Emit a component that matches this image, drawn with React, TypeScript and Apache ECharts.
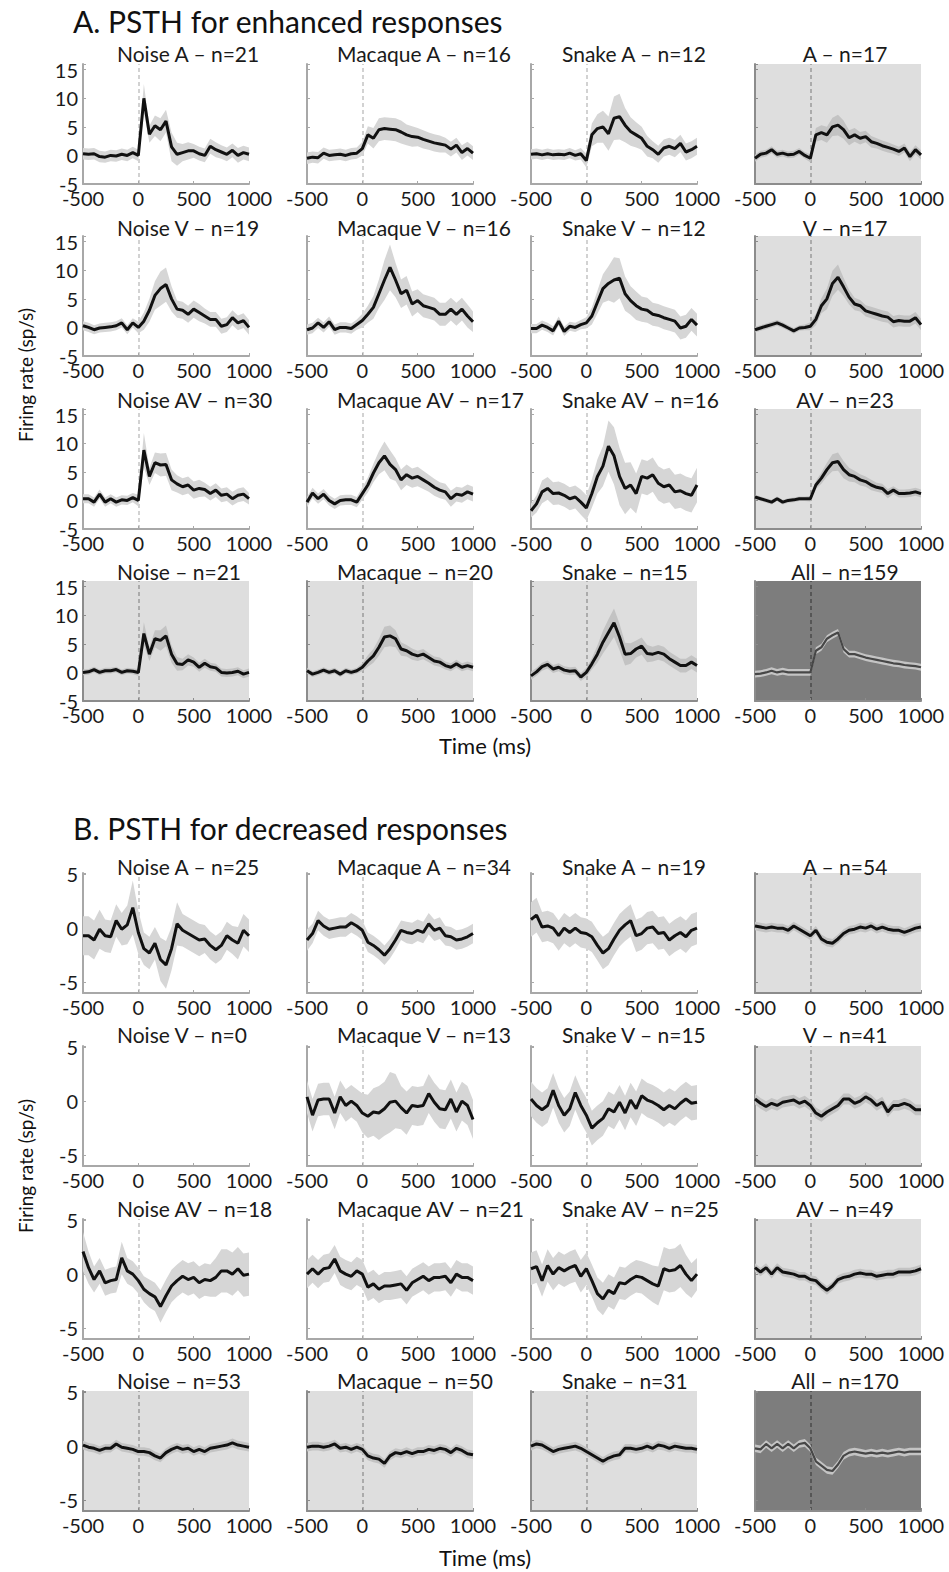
import React, { useEffect, useRef } from 'react';
import * as echarts from 'echarts';

// time bins (ms)
const times = ['-500','-450','-400','-350','-300','-250','-200','-150','-100','-50','0','50','100','150','200','250','300','350','400','450','500','550','600','650','700','750','800','850','900','950','1000'];
const xTickLabels = ['-500', '0', '500', '1000'];
const yTicksA = [-5, 0, 5, 10, 15];
const yTicksB = [-5, 0, 5];

// ---------- A. enhanced responses: means ----------
const aNoiseA = [0.3,0.2,0.3,-0.2,-0.3,0,-0.1,0.2,0,0.5,0, 10,3.7,5.2,4.5,6.0,1.5,0.2,0.5,0.8,0.8,0.3,0,1.6,1.0,0.6,0.2,0.9,0,0.5,0.2];
const aMacaqueA = [-0.5,-0.3,-0.4,0.4,0,0.1,0.2,0,0.3,0.4,1.2, 3.6,3,4.5,4.7,4.6,4.5,4.1,3.6,3.3,3.2,2.8,2.5,2.2,2,1.8,1.1,1.8,0.5,1.2,0.4];
const aSnakeA = [0.2,0.3,0.1,0.3,0.1,0.2,0.1,0.4,0,0.3,-0.9, 3.6,4.7,5,3.8,6.5,6.8,5.3,4.2,3.6,3,1.6,1,0.2,1.3,1.6,1.2,2.1,0.6,1,1.6];
const aA = [-0.5,0.2,0.4,1,0.2,0.4,0.1,0.2,0.7,0,-0.5, 3.6,4,3.6,5,5.3,4.5,3.1,3.6,3,3.3,2.4,2.1,1.7,1.4,1.1,0.7,1.3,-0.2,1,0.1];
const aNoiseV = [0.3,0,-0.4,-0.1,0,0.1,0.3,0.8,-0.4,0.8,0, 1.1,3,5.6,6.8,7.5,5,3.2,3,2.3,3.2,2.6,2,1.4,1.4,0.2,0.5,1.7,0.8,1.2,0];
const aMacaqueV = [-0.4,-0.1,0.8,0,1,-0.4,0,0,-0.2,0.5,1.2, 2.3,3.5,5.9,8.3,10.5,8.3,5.9,6.5,4.1,4.7,3.8,3.5,3.2,2.3,2.3,3.2,2.3,3.2,2,1];
const aSnakeV = [-0.2,-0.2,0.4,0,-0.6,1.1,-0.7,0.2,0,0.5,0.8, 2,4.4,6.8,7.7,8.3,8.6,5.9,4.7,3.8,3.2,3,2.3,2.1,1.7,1.4,1.1,-0.1,0.2,1.4,0.4];
const aV = [-0.4,-0.1,0.2,0.5,0.8,0.4,-0.1,-0.6,-0.1,0,0.2, 1.4,3.8,5,7.7,8.8,7.1,5.3,4.1,3.8,2.9,2.6,2.3,2,1.8,1,1.2,1.1,1.1,1.7,0.5];
const aNoiseAV = [0.3,0.3,-0.3,1.1,-0.3,0.3,-0.3,0.1,0,0.5,0, 8.8,4.2,6.6,6.2,6.3,3.6,2.9,2.4,2.7,1.8,2.1,1.9,1.2,1.8,0.9,1.1,0.3,0.9,1.1,0.3];
const aMacaqueAV = [-0.3,1.3,0.3,1.1,0,-0.6,0,0.1,0.1,-0.3,1.2, 2.7,4.8,6.6,7.8,6.3,5.4,3.6,4.5,3.9,4.2,3.6,3,2.3,1.8,1.5,0.3,1.1,0.9,1.5,1.1];
const aSnakeAV = [-1.8,-0.6,1.5,2.1,1.2,1.3,0.9,0.3,0.6,-0.3,-1.3, 1.2,4.2,6,9.5,7.8,4.2,2.1,2.7,1.2,4.2,3.9,4.5,3,2.4,2.7,1.5,1.7,1.2,0.9,2.7];
const aAV = [0.6,0.3,0,-0.3,0.3,-0.3,0,0.1,0.3,0.3,0.3, 2.7,3.9,5.4,6.6,6.8,5.4,4.5,4.2,3.6,3.3,2.7,2.3,2.1,1.2,1.8,1.2,1.2,1.3,1.5,1.2];
const aNoise = [0,0.1,0.5,0,0.3,0.3,0.5,0,0.3,0.2,0, 6.8,3.2,5.9,5.6,6.4,3.2,1.5,1.4,2.2,1.8,0.9,1.6,1,0.8,0,-0.1,0,0.2,-0.3,0];
const aMacaque = [0.3,-0.3,0,0.4,0,0.3,-0.3,0.3,0,0.3,0.9, 2,2.9,4.4,6.2,6.4,5.9,4.1,3.8,3.2,2.9,3.2,2.6,2,1.8,1.2,0.9,1.5,0.9,1.2,0.9];
const aSnake = [-0.6,0.1,1,1.4,0.6,0.9,0.4,0.2,0.3,-0.8,0, 1.5,3.2,5.3,7,8.7,6.2,3.2,3.3,4.1,4.6,3.3,3.2,3.5,3.2,2.4,1.8,1.2,1.2,1.8,1.2];
const aAll = [-0.3,-0.2,0,0.3,0,0.2,0,0,0,0,0, 3.8,4.4,5.9,6.5,7,4.1,3.2,3.2,2.9,2.6,2.4,2.2,2,1.8,1.6,1.5,1.3,1.2,1.1,0.9];

// ---------- A. enhanced responses: s.e.m. ----------
const aNoiseA_sem = [1,1,1,1,1,1,1,1,1,1,1, 2.5,1.5,1.8,2,2,2.5,2,1.5,1.5,1.2,1.2,1.2,1.3,1.3,1.2,1.2,1.2,1.3,1.2,1.2];
const aMacaqueA_sem = [1,1,1,1,1,1,1,1,1,1,1.2, 1.5,1.8,2,2,2,2,2,1.8,1.8,1.6,1.6,1.5,1.5,1.5,1.3,1.3,1.3,1.3,1.2,1.2];
const aSnakeA_sem = [0.9,0.9,0.9,0.9,0.9,0.9,0.9,0.9,0.9,1,1.2, 2,2.5,2.8,3,3.8,4,3,2.5,2.2,2,1.8,1.5,1.5,1.5,1.5,1.5,1.5,1.5,1.5,1.5];
const aA_sem = [0.6,0.6,0.6,0.6,0.6,0.6,0.6,0.6,0.6,0.6,0.7, 1.2,1.3,1.4,1.6,1.8,1.6,1.3,1.2,1.1,1,1,0.9,0.9,0.9,0.8,0.8,0.8,0.8,0.8,0.8];
const aNoiseV_sem = [0.8,0.8,0.8,0.8,0.8,0.8,0.8,0.8,0.8,0.8,1, 1.5,2,2.5,3,3,2.2,1.5,1.5,1.5,1.5,1.5,1.3,1.3,1.3,1.3,1.3,1.3,1.3,1.3,1.3];
const aMacaqueV_sem = [0.9,0.9,0.9,0.9,0.9,0.9,0.9,0.9,0.9,0.9,1.2, 1.5,2,2.5,3.5,4,3,2.5,2.5,2.2,2,2,2,2,2,2,2,2,2,2,1.8];
const aSnakeV_sem = [0.8,0.8,0.8,0.8,0.8,0.8,0.8,0.8,0.8,0.8,1, 1.5,2,2.5,3,4,3.5,3,2.5,2.5,2.2,2.2,2,2,2,2,2,2,2,2,2];
const aV_sem = [0.5,0.5,0.5,0.5,0.5,0.5,0.5,0.5,0.5,0.5,0.7, 1,1.3,1.8,2.2,2.2,1.6,1.3,1.1,1,1,1,1,1,1,1,1,1,1,1,1];
const aNoiseAV_sem = [0.8,0.8,0.8,0.8,0.8,0.8,0.8,0.8,0.8,0.8,1, 3,1.5,1.8,2,2,1.8,1.5,1.5,1.5,1.5,1.5,1.2,1.2,1.2,1.2,1.2,1.2,1.2,1.2,1];
const aMacaqueAV_sem = [0.9,0.9,0.9,0.9,0.9,0.9,0.9,0.9,0.9,0.9,1.1, 1.3,1.6,2,2.5,2.5,2,1.8,1.8,1.7,1.7,1.6,1.5,1.5,1.4,1.4,1.4,1.3,1.3,1.3,1.3];
const aSnakeAV_sem = [1.2,1.5,2,2,2,2,2,2,2,2.2,2.2, 2.5,3,3.5,4.5,5,5,4.5,4,3.5,3,3,3,3,3,3,3,3,3,3,3];
const aAV_sem = [0.4,0.4,0.4,0.4,0.4,0.4,0.4,0.4,0.4,0.4,0.5, 0.7,1,1.2,1.5,1.6,1.5,1.2,1,1,0.9,0.9,0.8,0.8,0.8,0.7,0.7,0.7,0.7,0.7,0.7];
const aNoise_sem = [0.5,0.5,0.5,0.5,0.5,0.5,0.5,0.5,0.5,0.5,0.6, 2,1.2,1.5,1.8,1.8,1.5,1.2,1,1,0.8,0.8,0.8,0.7,0.7,0.7,0.7,0.7,0.7,0.7,0.7];
const aMacaque_sem = [0.5,0.5,0.5,0.5,0.5,0.5,0.5,0.5,0.5,0.5,0.7, 1,1.2,1.5,1.8,1.8,1.5,1.2,1,1,0.9,0.9,0.8,0.8,0.8,0.7,0.7,0.7,0.7,0.7,0.7];
const aSnake_sem = [0.7,0.7,0.7,0.7,0.7,0.7,0.7,0.7,0.7,0.7,0.8, 1,1.5,2,2.3,2.5,2.3,2,1.8,1.5,1.5,1.5,1.3,1.3,1.3,1.2,1.2,1.2,1.2,1.2,1.2];
const aAll_sem = [0.6,0.6,0.6,0.6,0.6,0.6,0.6,0.6,0.6,0.6,0.6, 0.6,0.6,0.6,0.6,0.6,0.6,0.6,0.6,0.6,0.6,0.6,0.6,0.6,0.6,0.6,0.6,0.6,0.6,0.6,0.6];

// ---------- B. decreased responses: means ----------
const bNoiseA = [-0.7,-0.7,-1.1,-0.1,-0.7,-0.8,0.7,-0.1,0.3,1.9,-0.4, -1.9,-2.3,-1.4,-2.9,-3.4,-1.9,0.4,-0.2,-0.5,-0.8,-1.1,-1,-1.6,-2,-1.6,-0.7,-1.1,-1.4,-0.2,-0.7];
const bMacaqueA = [-1.1,-0.5,0.7,0.2,-0.1,0,0.1,0.1,0.5,0.2,-0.2, -1.3,-1.6,-2,-2.5,-1.9,-1.1,-0.2,-0.4,-0.5,-0.2,-0.4,0.4,-0.2,0,-0.7,-0.8,-1.1,-1,-0.8,-0.5];
const bSnakeA = [0.8,1.2,0.1,0.2,0,-0.7,0,-0.4,0,-0.4,-0.5, -0.8,-1.6,-2.3,-1.9,-1,-0.2,0.3,0.7,-0.7,-0.5,0,0.1,-0.5,-0.4,-1.1,-0.7,-0.4,-0.8,-0.2,0];
const bA = [0.2,0.1,0,0.1,0,0,-0.2,0.2,-0.1,-0.4,-0.7, -0.2,-1,-1.3,-1.4,-1,-0.5,-0.2,-0.1,0.1,0,0.2,-0.1,0.1,-0.1,-0.2,-0.2,-0.4,-0.2,0,0.1];
const bMacaqueV = [0.4,-1.3,0.1,0.2,0.2,-1.1,0.4,-0.4,0,-0.4,-1.1, -1.4,-1,-1.1,-0.7,-0.1,0,-0.6,-1.1,-0.4,-0.5,-0.4,0.7,-0.1,-0.7,-0.8,0.2,-1,0,-0.4,-1.7];
const bSnakeV = [0.2,-0.4,-0.8,-0.4,1,-0.4,-1.3,-0.7,0.8,-0.4,-1.3, -2.5,-2,-1.6,-0.7,-1,-0.1,-1.1,0.1,-0.7,0.5,0.1,-0.1,-0.4,-0.8,-0.4,-0.7,-0.2,0.2,-0.2,-0.1];
const bV = [0.2,-0.2,-0.5,-0.2,-0.4,-0.1,0,0.1,-0.2,0,-0.4, -1.1,-1.4,-1,-0.7,-0.4,0.2,0.2,-0.2,0,0.4,0.1,-0.4,-0.1,-1,-0.4,-0.4,-0.2,-0.4,-0.8,-0.8];
const bNoiseAV = [2.1,0.6,-0.5,0.3,-0.8,-0.6,-0.5,1.5,0.3,0,-0.6, -1.4,-1.8,-2.1,-3,-2,-1.1,-0.6,-0.2,-0.5,-0.3,-0.8,-0.5,-0.6,-0.3,0.3,0.3,0,0.5,-0.1,0];
const bMacaqueAV = [0,0.5,0,0.5,0.6,1.4,0.3,0,-0.2,0.3,0, -1.2,-0.9,-1.4,-1.1,-1.1,-1,-0.9,-1.5,-0.8,-0.5,-0.2,-0.6,-0.3,-0.3,-0.2,-0.8,0,-0.3,-0.3,-0.6];
const bSnakeAV = [0.5,0.7,-0.6,0.8,0,0.6,0.3,0.6,0.8,-0.2,0.5, -0.6,-1.8,-2.3,-1.5,-1.8,-0.8,-0.9,-0.5,-0.2,-0.3,-0.6,-0.9,-1.1,0.5,0.3,0.4,0.8,0,-0.6,0];
const bAV = [0.6,0.2,0.6,0,0.6,0.2,0.1,0,-0.2,-0.2,-0.5, -0.6,-1.1,-1.5,-1.1,-0.5,-0.3,-0.2,0,0.1,0,0,-0.2,-0.1,0,0,0.2,0.2,0.2,0.3,0.5];
const bNoise = [0.1,-0.1,-0.2,-0.4,-0.2,-0.2,0.2,-0.1,-0.2,-0.3,-0.5, -0.5,-0.6,-0.9,-1.1,-0.6,-0.3,-0.1,-0.3,-0.2,-0.5,-0.3,-0.5,-0.2,-0.1,0,0.1,0.3,0.1,0,-0.1];
const bMacaque = [-0.1,0,0,-0.1,0,0.2,-0.2,-0.1,-0.3,-0.1,-0.3, -0.9,-1.1,-1.2,-1.6,-0.9,-0.6,-0.7,-0.5,-0.7,-0.5,-0.5,-0.3,-0.4,-0.2,-0.3,-0.6,-0.2,-0.4,-0.7,-0.8];
const bSnake = [0,0.2,0.1,-0.2,-0.5,-0.3,-0.2,-0.1,0,-0.2,-0.5, -0.8,-1.1,-1.4,-1.1,-0.9,-0.8,-0.2,-0.2,-0.3,-0.2,0,-0.2,0.1,0,-0.2,0,-0.1,-0.2,-0.2,-0.3];
const bAll = [-0.2,-0.3,0.2,-0.2,0.2,-0.2,0.2,-0.2,0.2,0.3,-0.2, -1.4,-1.8,-2.2,-2.3,-1.7,-0.9,-0.6,-0.5,-0.6,-0.7,-0.6,-0.7,-0.6,-0.7,-0.6,-0.5,-0.6,-0.5,-0.5,-0.5];

// ---------- B. decreased responses: s.e.m. ----------
const bNoiseA_sem = [1.8,1.8,1.8,1.8,1.5,1.5,1.5,1.5,1.8,2.5,2, 1.5,1.5,1.5,2,2.2,2,2,1.5,1.5,1.5,1.5,1.3,1.3,1.3,1.3,1.3,1.3,1.5,1.5,1.5];
const bMacaqueA_sem = [1,0.9,0.9,0.9,0.9,0.9,0.9,0.9,0.9,0.9,0.9, 0.9,0.9,0.9,0.9,0.9,0.9,0.9,1,1,1,1,1,1,1,0.9,0.9,0.9,0.9,0.9,0.9];
const bSnakeA_sem = [1.6,1.6,1.4,1.4,1.4,1.4,1.4,1.4,1.4,1.4,1.4, 1.4,1.4,1.5,1.5,1.5,1.5,1.5,1.5,1.5,1.5,1.5,1.5,1.5,1.5,1.5,1.5,1.5,1.5,1.5,1.5];
const bA_sem = [0.4,0.4,0.4,0.4,0.4,0.4,0.4,0.4,0.4,0.4,0.4, 0.4,0.4,0.4,0.4,0.4,0.4,0.4,0.4,0.4,0.4,0.4,0.4,0.4,0.4,0.4,0.4,0.4,0.4,0.4,0.4];
const bMacaqueV_sem = [1.5,1.5,1.5,1.5,1.5,1.5,1.5,1.5,1.5,1.5,1.8, 2,2.2,2.5,2.5,2.8,2.5,2,2,1.8,1.8,1.8,1.8,1.8,1.8,1.8,1.8,1.8,1.8,1.8,1.8];
const bSnakeV_sem = [1.6,1.6,1.6,1.6,1.6,1.6,1.6,1.6,1.6,1.6,1.6, 1.6,1.6,1.6,1.6,1.6,1.6,1.6,1.6,1.6,1.6,1.6,1.6,1.6,1.6,1.6,1.6,1.6,1.6,1.6,1.6];
const bV_sem = [0.5,0.5,0.5,0.5,0.5,0.5,0.5,0.5,0.5,0.5,0.5, 0.5,0.5,0.5,0.5,0.5,0.5,0.5,0.5,0.5,0.5,0.5,0.5,0.5,0.5,0.5,0.5,0.5,0.5,0.5,0.5];
const bNoiseAV_sem = [1.8,1.5,1.2,1.2,1.2,1.2,1.2,1.5,1.2,1.2,1.2, 1.2,1.3,1.3,1.5,1.5,1.5,1.5,1.5,1.5,1.5,1.5,1.5,1.5,1.8,2,2,2,2,2,2];
const bMacaqueAV_sem = [1.3,1.3,1.3,1.3,1.3,1.3,1.3,1.3,1.3,1.3,1.3, 1.3,1.3,1.3,1.3,1.3,1.3,1.3,1.3,1.3,1.3,1.3,1.3,1.3,1.3,1.3,1.3,1.3,1.3,1.3,1.3];
const bSnakeAV_sem = [1.5,1.5,1.5,1.5,1.5,1.5,1.5,1.5,1.5,1.5,1.5, 1.5,1.5,1.5,1.5,1.5,1.5,1.5,1.5,1.5,1.5,1.6,1.7,1.8,2,2,2,2,1.8,1.6,1.5];
const bAV_sem = [0.4,0.4,0.4,0.4,0.4,0.4,0.4,0.4,0.4,0.4,0.4, 0.4,0.4,0.4,0.4,0.4,0.4,0.4,0.4,0.4,0.4,0.4,0.4,0.4,0.4,0.4,0.4,0.4,0.4,0.4,0.4];
const bNoise_sem = [0.4,0.4,0.4,0.4,0.4,0.4,0.4,0.4,0.4,0.4,0.4, 0.4,0.4,0.4,0.4,0.4,0.4,0.4,0.4,0.4,0.4,0.4,0.4,0.4,0.4,0.4,0.4,0.4,0.4,0.4,0.4];
const bMacaque_sem = [0.4,0.4,0.4,0.4,0.4,0.4,0.4,0.4,0.4,0.4,0.4, 0.4,0.4,0.4,0.4,0.4,0.4,0.4,0.4,0.4,0.4,0.4,0.4,0.4,0.4,0.4,0.4,0.4,0.4,0.4,0.4];
const bSnake_sem = [0.4,0.4,0.4,0.4,0.4,0.4,0.4,0.4,0.4,0.4,0.4, 0.4,0.4,0.4,0.4,0.4,0.4,0.4,0.4,0.4,0.4,0.4,0.4,0.4,0.4,0.4,0.4,0.4,0.4,0.4,0.4];
const bAll_sem = [0.35,0.35,0.35,0.35,0.35,0.35,0.35,0.35,0.35,0.35,0.35, 0.35,0.35,0.35,0.35,0.35,0.35,0.35,0.35,0.35,0.35,0.35,0.35,0.35,0.35,0.35,0.35,0.35,0.35,0.35,0.35];

type Panel = { title: string; mean: number[] | null; sem: number[] | null };

const panelsA: Panel[] = [
  { title: 'Noise A – n=21', mean: aNoiseA, sem: aNoiseA_sem },
  { title: 'Macaque A – n=16', mean: aMacaqueA, sem: aMacaqueA_sem },
  { title: 'Snake A – n=12', mean: aSnakeA, sem: aSnakeA_sem },
  { title: 'A – n=17', mean: aA, sem: aA_sem },
  { title: 'Noise V – n=19', mean: aNoiseV, sem: aNoiseV_sem },
  { title: 'Macaque V – n=16', mean: aMacaqueV, sem: aMacaqueV_sem },
  { title: 'Snake V – n=12', mean: aSnakeV, sem: aSnakeV_sem },
  { title: 'V – n=17', mean: aV, sem: aV_sem },
  { title: 'Noise AV – n=30', mean: aNoiseAV, sem: aNoiseAV_sem },
  { title: 'Macaque AV – n=17', mean: aMacaqueAV, sem: aMacaqueAV_sem },
  { title: 'Snake AV – n=16', mean: aSnakeAV, sem: aSnakeAV_sem },
  { title: 'AV – n=23', mean: aAV, sem: aAV_sem },
  { title: 'Noise – n=21', mean: aNoise, sem: aNoise_sem },
  { title: 'Macaque – n=20', mean: aMacaque, sem: aMacaque_sem },
  { title: 'Snake – n=15', mean: aSnake, sem: aSnake_sem },
  { title: 'All – n=159', mean: aAll, sem: aAll_sem },
];

const panelsB: Panel[] = [
  { title: 'Noise A – n=25', mean: bNoiseA, sem: bNoiseA_sem },
  { title: 'Macaque A – n=34', mean: bMacaqueA, sem: bMacaqueA_sem },
  { title: 'Snake A – n=19', mean: bSnakeA, sem: bSnakeA_sem },
  { title: 'A – n=54', mean: bA, sem: bA_sem },
  { title: 'Noise V – n=0', mean: null, sem: null },
  { title: 'Macaque V – n=13', mean: bMacaqueV, sem: bMacaqueV_sem },
  { title: 'Snake V – n=15', mean: bSnakeV, sem: bSnakeV_sem },
  { title: 'V – n=41', mean: bV, sem: bV_sem },
  { title: 'Noise AV – n=18', mean: bNoiseAV, sem: bNoiseAV_sem },
  { title: 'Macaque AV – n=21', mean: bMacaqueAV, sem: bMacaqueAV_sem },
  { title: 'Snake AV – n=25', mean: bSnakeAV, sem: bSnakeAV_sem },
  { title: 'AV – n=49', mean: bAV, sem: bAV_sem },
  { title: 'Noise – n=53', mean: bNoise, sem: bNoise_sem },
  { title: 'Macaque – n=50', mean: bMacaque, sem: bMacaque_sem },
  { title: 'Snake – n=31', mean: bSnake, sem: bSnake_sem },
  { title: 'All – n=170', mean: bAll, sem: bAll_sem },
];

// ---------- layout ----------
const FONT = 'Lato';
const colLeft = [83, 307, 531, 755];
const plotW = 166;
const plotH = 120;
const rowTopA = [64, 236, 409, 581];
const rowTopB = [873, 1046, 1219, 1391];
const titleYA = [53, 227, 399, 571];
const titleYB = [866, 1034, 1208, 1380];
// titles: left-aligned in the first three columns, centred in the last
const titleX = [117, 337, 562, 845];
const titleAlign = ['left', 'left', 'left', 'center'];

function buildOption() {
  const grid: any[] = [];
  const xAxis: any[] = [];
  const yAxis: any[] = [];
  const series: any[] = [];
  const graphic: any[] = [];

  const sections = [
    { panels: panelsA, tops: rowTopA, titleY: titleYA, min: -5, max: 16, ticks: yTicksA, b: false },
    { panels: panelsB, tops: rowTopB, titleY: titleYB, min: -6, max: 5.1, ticks: yTicksB, b: true },
  ];

  let gi = 0;
  sections.forEach((sec) => {
    sec.panels.forEach((pnl, k) => {
      const r = Math.floor(k / 4);
      const c = k % 4;
      const kind = r === 3 && c === 3 ? 'dark' : r === 3 || c === 3 ? 'shade' : 'white';
      const bg = kind === 'dark' ? '#7d7d7d' : kind === 'shade' ? '#dedede' : '#ffffff';
      const bandColor = kind === 'dark' ? '#c4c4c4' : kind === 'shade' ? '#c3c3c3' : '#d6d6d6';
      const lineColor = kind === 'dark' ? '#474747' : '#111111';
      const zeroColor = kind === 'dark' ? '#4a4a4a' : kind === 'shade' ? '#9a9a9a' : '#c4c4c4';
      const axisColor = kind === 'white' ? '#a8a8a8' : '#8c8c8c';

      grid.push({
        left: colLeft[c], top: sec.tops[r], width: plotW, height: plotH,
        show: kind !== 'white', backgroundColor: bg, borderWidth: 0,
      });
      xAxis.push({
        gridIndex: gi, type: 'category', data: times, boundaryGap: false, position: 'bottom',
        axisLine: { show: true, onZero: false, lineStyle: { color: axisColor, width: 2 } },
        axisTick: { show: true, inside: true, length: 3, interval: 9, lineStyle: { color: axisColor } },
        splitLine: { show: false },
        axisLabel: {
          show: true, interval: 9, margin: 4, color: '#1a1a1a', fontFamily: FONT, fontSize: 20,
          formatter: (v: string) => (xTickLabels.includes(v) ? v : ''),
        },
      });
      const ticks = sec.ticks;
      const yAx: any = {
        gridIndex: gi, type: 'value', min: sec.min, max: sec.max,
        axisLine: { show: true, onZero: false, lineStyle: { color: axisColor, width: 2 } },
        axisTick: { show: true, inside: true, length: 3, lineStyle: { color: axisColor } },
        splitLine: { show: false },
        axisLabel: {
          show: c === 0, margin: 5, color: '#1a1a1a', fontFamily: FONT, fontSize: 20,
          showMinLabel: true, showMaxLabel: true,
          formatter: (v: number) => (ticks.some((t) => Math.abs(t - v) < 1e-6) ? String(v) : ''),
        },
      };
      if (sec.b) { yAx.minInterval = 5; yAx.maxInterval = 5; yAx.splitNumber = 2; }
      else { yAx.interval = 5; }
      yAxis.push(yAx);

      if (pnl.mean && pnl.sem) {
        const mean = pnl.mean;
        const sem = pnl.sem;
        series.push({
          type: 'line', xAxisIndex: gi, yAxisIndex: gi, stack: 'band' + gi, stackStrategy: 'all',
          data: mean.map((m, i) => +(m - sem[i]).toFixed(3)), symbol: 'none', silent: true,
          lineStyle: { width: 0, opacity: 0 }, z: 1,
        });
        series.push({
          type: 'line', xAxisIndex: gi, yAxisIndex: gi, stack: 'band' + gi, stackStrategy: 'all',
          data: sem.map((s) => +(2 * s).toFixed(3)), symbol: 'none', silent: true,
          lineStyle: { width: 0, opacity: 0 }, areaStyle: { color: bandColor, opacity: 1 }, z: 1,
        });
        series.push({
          type: 'line', xAxisIndex: gi, yAxisIndex: gi, data: mean, symbol: 'none', silent: true,
          lineStyle: { color: lineColor, width: kind === 'dark' ? 2.2 : 3 }, z: 3,
          markLine: {
            silent: true, symbol: ['none', 'none'], label: { show: false }, animation: false,
            lineStyle: { type: [4, 3], color: zeroColor, width: 1.5 },
            data: [{ xAxis: '0' }], z: 0,
          },
        });
      }

      graphic.push({
        type: 'text', x: titleX[c], y: sec.titleY[r], z: 10,
        style: {
          text: pnl.title, fill: '#1a1a1a', fontFamily: FONT, fontSize: 21,
          align: titleAlign[c], verticalAlign: 'middle', textAlign: titleAlign[c], textVerticalAlign: 'middle',
        },
      });
      gi += 1;
    });
  });

  const txt = (text: string, x: number, y: number, size: number, align: string, rotation = 0) => ({
    type: 'text', x, y, rotation, z: 10,
    style: {
      text, fill: '#111', fontFamily: FONT, fontSize: size,
      align, verticalAlign: 'middle', textAlign: align, textVerticalAlign: 'middle',
    },
  });
  graphic.push(txt('A. PSTH for enhanced responses', 73, 21, 30, 'left'));
  graphic.push(txt('B. PSTH for decreased responses', 73, 828, 30, 'left'));
  graphic.push(txt('Firing rate (sp/s)', 25, 375, 19, 'center', Math.PI / 2));
  graphic.push(txt('Firing rate (sp/s)', 25, 1166, 19, 'center', Math.PI / 2));
  graphic.push(txt('Time (ms)', 485, 745, 22, 'center'));
  graphic.push(txt('Time (ms)', 485, 1557, 22, 'center'));

  return {
    animation: false,
    backgroundColor: '#ffffff',
    textStyle: { fontFamily: FONT },
    grid, xAxis, yAxis, series, graphic,
  };
}

export default function App() {
  const ref = useRef<HTMLDivElement>(null);
  useEffect(() => {
    if (!ref.current) return;
    const chart = echarts.init(ref.current, undefined, { renderer: 'svg' });
    chart.setOption(buildOption() as any);
    return () => chart.dispose();
  }, []);
  return (
    <div
      ref={ref}
      style={{ position: 'absolute', left: 0, top: 0, width: 949, height: 1572, background: '#fff' }}
    />
  );
}
